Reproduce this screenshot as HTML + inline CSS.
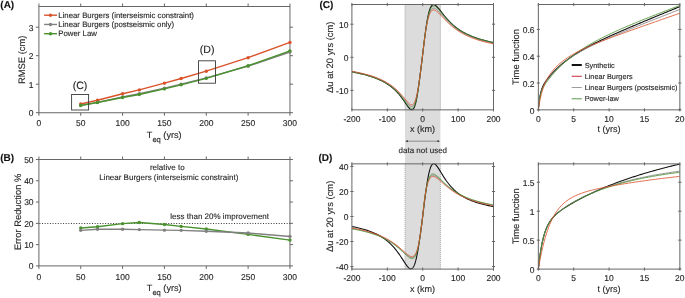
<!DOCTYPE html>
<html><head><meta charset="utf-8"><style>
html,body{margin:0;padding:0;background:#fff;}
svg{display:block;font-family:"Liberation Sans", sans-serif;will-change:transform;text-rendering:geometricPrecision;}
text{stroke:currentColor;stroke-width:0.12px;}
</style></head><body>
<svg width="685" height="298" viewBox="0 0 685 298">
<rect width="685" height="298" fill="#fff"/>
<rect x="405.00" y="4.50" width="35.40" height="264.60" fill="#DCDCDC"/>
<line x1="405.00" y1="4.50" x2="405.00" y2="109.85" stroke="#777" stroke-width="0.6" stroke-dasharray="1 1"/>
<line x1="440.40" y1="4.50" x2="440.40" y2="109.85" stroke="#777" stroke-width="0.6" stroke-dasharray="1 1"/>
<line x1="405.00" y1="163.85" x2="405.00" y2="269.10" stroke="#777" stroke-width="0.6" stroke-dasharray="1 1"/>
<line x1="440.40" y1="163.85" x2="440.40" y2="269.10" stroke="#777" stroke-width="0.6" stroke-dasharray="1 1"/>
<clipPath id="cl"><rect x="351.9" y="3.8" width="141.60000000000002" height="106.75"/></clipPath>
<g clip-path="url(#cl)">
<path d="M351.90,71.85 L352.86,72.03 L353.82,72.21 L354.78,72.40 L355.74,72.59 L356.70,72.78 L357.66,72.99 L358.62,73.19 L359.58,73.41 L360.54,73.63 L361.50,73.85 L362.46,74.09 L363.42,74.33 L364.38,74.58 L365.34,74.83 L366.30,75.09 L367.26,75.37 L368.22,75.65 L369.18,75.94 L370.14,76.23 L371.10,76.54 L372.06,76.86 L373.02,77.20 L373.98,77.54 L374.94,77.90 L375.90,78.27 L376.86,78.65 L377.82,79.05 L378.78,79.46 L379.74,79.89 L380.70,80.34 L381.66,80.81 L382.62,81.29 L383.58,81.80 L384.54,82.33 L385.50,82.88 L386.46,83.46 L387.42,84.07 L388.38,84.70 L389.34,85.36 L390.30,86.06 L391.26,86.79 L392.22,87.56 L393.18,88.37 L394.14,89.22 L395.10,90.11 L396.06,91.06 L397.02,92.05 L397.98,93.09 L398.94,94.19 L399.90,95.34 L400.86,96.55 L401.82,97.81 L402.78,99.13 L403.74,100.49 L404.70,101.90 L405.66,103.32 L406.62,104.74 L407.58,106.12 L408.54,107.40 L408.78,107.70 L409.01,107.98 L409.25,108.25 L409.48,108.51 L409.72,108.75 L409.96,108.97 L410.19,109.18 L410.43,109.36 L410.66,109.52 L410.90,109.66 L411.14,109.76 L411.37,109.84 L411.61,109.89 L411.84,109.90 L412.08,109.87 L412.32,109.81 L412.55,109.70 L412.79,109.54 L413.02,109.34 L413.26,109.09 L413.50,108.78 L413.73,108.42 L413.97,108.00 L414.20,107.52 L414.44,106.97 L414.68,106.36 L414.91,105.69 L415.15,104.94 L415.38,104.13 L415.62,103.25 L415.86,102.30 L416.09,101.28 L416.33,100.18 L416.56,99.03 L416.80,97.80 L417.04,96.51 L417.27,95.16 L417.51,93.74 L417.74,92.27 L417.98,90.75 L418.22,89.18 L418.45,87.55 L418.69,85.89 L418.92,84.19 L419.16,82.45 L419.40,80.68 L419.63,78.89 L419.87,77.07 L420.10,75.23 L420.34,73.37 L420.58,71.50 L420.81,69.62 L421.05,67.73 L421.28,65.84 L421.52,63.94 L421.76,62.04 L421.99,60.14 L422.23,58.24 L422.46,56.28 L422.70,54.26 L422.94,52.25 L423.17,50.24 L423.41,48.24 L423.64,46.26 L423.88,44.29 L424.12,42.34 L424.35,40.42 L424.59,38.52 L424.82,36.66 L425.06,34.83 L425.30,33.04 L425.53,31.30 L425.77,29.60 L426.00,27.95 L426.24,26.35 L426.48,24.80 L426.71,23.31 L426.95,21.88 L427.18,20.51 L427.42,19.20 L427.66,17.95 L427.89,16.76 L428.13,15.63 L428.36,14.57 L428.60,13.56 L428.84,12.62 L429.07,11.74 L429.31,10.92 L429.54,10.16 L429.78,9.46 L430.02,8.81 L430.25,8.22 L430.49,7.68 L430.72,7.19 L430.96,6.75 L431.20,6.36 L431.43,6.01 L431.67,5.71 L431.90,5.45 L432.14,5.23 L432.38,5.04 L432.61,4.90 L432.85,4.78 L433.08,4.70 L433.32,4.65 L433.56,4.63 L433.79,4.64 L434.03,4.67 L434.26,4.72 L434.50,4.80 L434.74,4.90 L434.97,5.02 L435.21,5.15 L435.44,5.31 L435.68,5.47 L435.92,5.66 L436.15,5.85 L436.39,6.06 L436.62,6.28 L436.86,6.51 L437.82,7.54 L438.78,8.67 L439.74,9.86 L440.70,11.10 L441.66,12.34 L442.62,13.58 L443.58,14.80 L444.54,16.00 L445.50,17.17 L446.46,18.30 L447.42,19.39 L448.38,20.44 L449.34,21.45 L450.30,22.42 L451.26,23.35 L452.22,24.24 L453.18,25.10 L454.14,25.92 L455.10,26.70 L456.06,27.46 L457.02,28.18 L457.98,28.87 L458.94,29.54 L459.90,30.17 L460.86,30.79 L461.82,31.37 L462.78,31.94 L463.74,32.48 L464.70,33.00 L465.66,33.50 L466.62,33.99 L467.58,34.45 L468.54,34.90 L469.50,35.33 L470.46,35.75 L471.42,36.15 L472.38,36.54 L473.34,36.92 L474.30,37.28 L475.26,37.63 L476.22,37.97 L477.18,38.30 L478.14,38.62 L479.10,38.92 L480.06,39.22 L481.02,39.51 L481.98,39.79 L482.94,40.07 L483.90,40.33 L484.86,40.59 L485.82,40.84 L486.78,41.08 L487.74,41.31 L488.70,41.54 L489.66,41.76 L490.62,41.98 L491.58,42.19 L492.54,42.40 L493.50,42.60" fill="none" stroke="#111111" stroke-width="1.1" stroke-linejoin="round"/>
<path d="M351.90,71.57 L352.86,71.75 L353.82,71.93 L354.78,72.11 L355.74,72.30 L356.70,72.49 L357.66,72.69 L358.62,72.90 L359.58,73.11 L360.54,73.32 L361.50,73.54 L362.46,73.77 L363.42,74.01 L364.38,74.25 L365.34,74.50 L366.30,74.76 L367.26,75.02 L368.22,75.30 L369.18,75.58 L370.14,75.87 L371.10,76.18 L372.06,76.49 L373.02,76.81 L373.98,77.15 L374.94,77.49 L375.90,77.85 L376.86,78.22 L377.82,78.61 L378.78,79.01 L379.74,79.43 L380.70,79.86 L381.66,80.31 L382.62,80.78 L383.58,81.27 L384.54,81.78 L385.50,82.31 L386.46,82.86 L387.42,83.44 L388.38,84.04 L389.34,84.68 L390.30,85.34 L391.26,86.03 L392.22,86.75 L393.18,87.51 L394.14,88.31 L395.10,89.14 L396.06,90.02 L397.02,90.94 L397.98,91.90 L398.94,92.90 L399.90,93.95 L400.86,95.04 L401.82,96.18 L402.78,97.35 L403.74,98.56 L404.70,99.79 L405.66,101.02 L406.62,102.24 L407.58,103.41 L408.54,104.49 L408.78,104.73 L409.01,104.97 L409.25,105.19 L409.48,105.40 L409.72,105.60 L409.96,105.78 L410.19,105.94 L410.43,106.09 L410.66,106.22 L410.90,106.32 L411.14,106.40 L411.37,106.46 L411.61,106.49 L411.84,106.49 L412.08,106.46 L412.32,106.40 L412.55,106.30 L412.79,106.16 L413.02,105.98 L413.26,105.76 L413.50,105.50 L413.73,105.18 L413.97,104.82 L414.20,104.41 L414.44,103.94 L414.68,103.42 L414.91,102.84 L415.15,102.20 L415.38,101.49 L415.62,100.73 L415.86,99.90 L416.09,99.01 L416.33,98.06 L416.56,97.04 L416.80,95.95 L417.04,94.81 L417.27,93.60 L417.51,92.32 L417.74,90.99 L417.98,89.60 L418.22,88.16 L418.45,86.66 L418.69,85.11 L418.92,83.51 L419.16,81.88 L419.40,80.20 L419.63,78.48 L419.87,76.73 L420.10,74.96 L420.34,73.15 L420.58,71.33 L420.81,69.49 L421.05,67.63 L421.28,65.76 L421.52,63.89 L421.76,62.01 L421.99,60.12 L422.23,58.23 L422.46,56.27 L422.70,54.23 L422.94,52.19 L423.17,50.18 L423.41,48.18 L423.64,46.20 L423.88,44.26 L424.12,42.35 L424.35,40.48 L424.59,38.65 L424.82,36.86 L425.06,35.12 L425.30,33.43 L425.53,31.79 L425.77,30.21 L426.00,28.69 L426.24,27.22 L426.48,25.81 L426.71,24.46 L426.95,23.17 L427.18,21.95 L427.42,20.78 L427.66,19.67 L427.89,18.63 L428.13,17.64 L428.36,16.71 L428.60,15.84 L428.84,15.03 L429.07,14.27 L429.31,13.57 L429.54,12.91 L429.78,12.31 L430.02,11.76 L430.25,11.25 L430.49,10.79 L430.72,10.38 L430.96,10.00 L431.20,9.67 L431.43,9.38 L431.67,9.12 L431.90,8.90 L432.14,8.71 L432.38,8.55 L432.61,8.42 L432.85,8.32 L433.08,8.25 L433.32,8.21 L433.56,8.18 L433.79,8.19 L434.03,8.21 L434.26,8.25 L434.50,8.31 L434.74,8.39 L434.97,8.49 L435.21,8.60 L435.44,8.72 L435.68,8.86 L435.92,9.02 L436.15,9.18 L436.39,9.35 L436.62,9.54 L436.86,9.73 L437.82,10.60 L438.78,11.56 L439.74,12.59 L440.70,13.66 L441.66,14.75 L442.62,15.84 L443.58,16.93 L444.54,18.00 L445.50,19.05 L446.46,20.07 L447.42,21.06 L448.38,22.02 L449.34,22.95 L450.30,23.85 L451.26,24.71 L452.22,25.54 L453.18,26.35 L454.14,27.12 L455.10,27.86 L456.06,28.57 L457.02,29.25 L457.98,29.91 L458.94,30.54 L459.90,31.15 L460.86,31.74 L461.82,32.30 L462.78,32.84 L463.74,33.36 L464.70,33.87 L465.66,34.35 L466.62,34.82 L467.58,35.27 L468.54,35.70 L469.50,36.12 L470.46,36.53 L471.42,36.92 L472.38,37.30 L473.34,37.67 L474.30,38.02 L475.26,38.36 L476.22,38.69 L477.18,39.01 L478.14,39.33 L479.10,39.63 L480.06,39.92 L481.02,40.20 L481.98,40.48 L482.94,40.75 L483.90,41.01 L484.86,41.26 L485.82,41.50 L486.78,41.74 L487.74,41.97 L488.70,42.20 L489.66,42.42 L490.62,42.63 L491.58,42.84 L492.54,43.04 L493.50,43.24" fill="none" stroke="#808080" stroke-width="0.85" stroke-linejoin="round"/>
<path d="M351.90,71.88 L352.86,72.05 L353.82,72.24 L354.78,72.42 L355.74,72.61 L356.70,72.81 L357.66,73.01 L358.62,73.22 L359.58,73.43 L360.54,73.65 L361.50,73.88 L362.46,74.11 L363.42,74.35 L364.38,74.60 L365.34,74.85 L366.30,75.12 L367.26,75.39 L368.22,75.67 L369.18,75.95 L370.14,76.25 L371.10,76.56 L372.06,76.88 L373.02,77.21 L373.98,77.55 L374.94,77.90 L375.90,78.27 L376.86,78.65 L377.82,79.05 L378.78,79.46 L379.74,79.88 L380.70,80.33 L381.66,80.79 L382.62,81.27 L383.58,81.77 L384.54,82.29 L385.50,82.84 L386.46,83.41 L387.42,84.00 L388.38,84.62 L389.34,85.28 L390.30,85.96 L391.26,86.67 L392.22,87.43 L393.18,88.21 L394.14,89.04 L395.10,89.91 L396.06,90.83 L397.02,91.78 L397.98,92.79 L398.94,93.85 L399.90,94.96 L400.86,96.11 L401.82,97.32 L402.78,98.57 L403.74,99.87 L404.70,101.19 L405.66,102.52 L406.62,103.84 L407.58,105.12 L408.54,106.30 L408.78,106.57 L409.01,106.83 L409.25,107.07 L409.48,107.30 L409.72,107.52 L409.96,107.72 L410.19,107.90 L410.43,108.07 L410.66,108.21 L410.90,108.32 L411.14,108.41 L411.37,108.48 L411.61,108.51 L411.84,108.51 L412.08,108.48 L412.32,108.41 L412.55,108.30 L412.79,108.14 L413.02,107.95 L413.26,107.70 L413.50,107.41 L413.73,107.06 L413.97,106.66 L414.20,106.20 L414.44,105.68 L414.68,105.11 L414.91,104.47 L415.15,103.76 L415.38,103.00 L415.62,102.16 L415.86,101.26 L416.09,100.29 L416.33,99.26 L416.56,98.16 L416.80,96.99 L417.04,95.76 L417.27,94.47 L417.51,93.12 L417.74,91.71 L417.98,90.24 L418.22,88.72 L418.45,87.16 L418.69,85.54 L418.92,83.89 L419.16,82.19 L419.40,80.47 L419.63,78.70 L419.87,76.92 L420.10,75.11 L420.34,73.27 L420.58,71.42 L420.81,69.56 L421.05,67.69 L421.28,65.81 L421.52,63.92 L421.76,62.03 L421.99,60.13 L422.23,58.24 L422.46,56.28 L422.70,54.25 L422.94,52.22 L423.17,50.21 L423.41,48.21 L423.64,46.23 L423.88,44.27 L424.12,42.34 L424.35,40.44 L424.59,38.58 L424.82,36.75 L425.06,34.96 L425.30,33.21 L425.53,31.52 L425.77,29.87 L426.00,28.28 L426.24,26.73 L426.48,25.25 L426.71,23.82 L426.95,22.45 L427.18,21.14 L427.42,19.89 L427.66,18.70 L427.89,17.58 L428.13,16.51 L428.36,15.50 L428.60,14.55 L428.84,13.67 L429.07,12.84 L429.31,12.06 L429.54,11.34 L429.78,10.68 L430.02,10.07 L430.25,9.51 L430.49,9.00 L430.72,8.54 L430.96,8.12 L431.20,7.75 L431.43,7.42 L431.67,7.13 L431.90,6.88 L432.14,6.66 L432.38,6.48 L432.61,6.34 L432.85,6.22 L433.08,6.14 L433.32,6.09 L433.56,6.06 L433.79,6.05 L434.03,6.08 L434.26,6.12 L434.50,6.18 L434.74,6.27 L434.97,6.37 L435.21,6.49 L435.44,6.62 L435.68,6.77 L435.92,6.93 L436.15,7.11 L436.39,7.30 L436.62,7.50 L436.86,7.70 L437.82,8.64 L438.78,9.68 L439.74,10.79 L440.70,11.94 L441.66,13.10 L442.62,14.27 L443.58,15.42 L444.54,16.56 L445.50,17.66 L446.46,18.74 L447.42,19.79 L448.38,20.79 L449.34,21.77 L450.30,22.70 L451.26,23.60 L452.22,24.46 L453.18,25.29 L454.14,26.09 L455.10,26.86 L456.06,27.59 L457.02,28.30 L457.98,28.97 L458.94,29.62 L459.90,30.24 L460.86,30.84 L461.82,31.42 L462.78,31.97 L463.74,32.51 L464.70,33.02 L465.66,33.52 L466.62,33.99 L467.58,34.45 L468.54,34.89 L469.50,35.32 L470.46,35.73 L471.42,36.13 L472.38,36.51 L473.34,36.89 L474.30,37.24 L475.26,37.59 L476.22,37.93 L477.18,38.25 L478.14,38.57 L479.10,38.88 L480.06,39.17 L481.02,39.46 L481.98,39.74 L482.94,40.01 L483.90,40.27 L484.86,40.53 L485.82,40.78 L486.78,41.02 L487.74,41.25 L488.70,41.48 L489.66,41.71 L490.62,41.92 L491.58,42.13 L492.54,42.34 L493.50,42.54" fill="none" stroke="#4A922F" stroke-width="0.85" stroke-linejoin="round"/>
<path d="M351.90,71.30 L352.86,71.47 L353.82,71.65 L354.78,71.83 L355.74,72.01 L356.70,72.20 L357.66,72.40 L358.62,72.60 L359.58,72.81 L360.54,73.02 L361.50,73.24 L362.46,73.46 L363.42,73.70 L364.38,73.93 L365.34,74.18 L366.30,74.43 L367.26,74.69 L368.22,74.96 L369.18,75.24 L370.14,75.53 L371.10,75.83 L372.06,76.13 L373.02,76.45 L373.98,76.78 L374.94,77.12 L375.90,77.47 L376.86,77.84 L377.82,78.22 L378.78,78.61 L379.74,79.02 L380.70,79.44 L381.66,79.88 L382.62,80.34 L383.58,80.82 L384.54,81.32 L385.50,81.84 L386.46,82.38 L387.42,82.94 L388.38,83.53 L389.34,84.15 L390.30,84.79 L391.26,85.46 L392.22,86.16 L393.18,86.90 L394.14,87.67 L395.10,88.47 L396.06,89.32 L397.02,90.20 L397.98,91.12 L398.94,92.08 L399.90,93.08 L400.86,94.12 L401.82,95.20 L402.78,96.31 L403.74,97.45 L404.70,98.60 L405.66,99.75 L406.62,100.89 L407.58,101.97 L408.54,102.97 L408.78,103.19 L409.01,103.41 L409.25,103.61 L409.48,103.81 L409.72,103.99 L409.96,104.15 L410.19,104.31 L410.43,104.44 L410.66,104.56 L410.90,104.66 L411.14,104.73 L411.37,104.79 L411.61,104.81 L411.84,104.82 L412.08,104.79 L412.32,104.73 L412.55,104.64 L412.79,104.52 L413.02,104.36 L413.26,104.16 L413.50,103.92 L413.73,103.64 L413.97,103.31 L414.20,102.93 L414.44,102.51 L414.68,102.03 L414.91,101.49 L415.15,100.91 L415.38,100.26 L415.62,99.56 L415.86,98.79 L416.09,97.96 L416.33,97.07 L416.56,96.12 L416.80,95.10 L417.04,94.02 L417.27,92.88 L417.51,91.67 L417.74,90.41 L417.98,89.08 L418.22,87.69 L418.45,86.25 L418.69,84.76 L418.92,83.21 L419.16,81.62 L419.40,79.98 L419.63,78.30 L419.87,76.58 L420.10,74.83 L420.34,73.06 L420.58,71.25 L420.81,69.43 L421.05,67.59 L421.28,65.73 L421.52,63.86 L421.76,61.99 L421.99,60.11 L422.23,58.23 L422.46,56.26 L422.70,54.21 L422.94,52.17 L423.17,50.15 L423.41,48.15 L423.64,46.18 L423.88,44.25 L424.12,42.36 L424.35,40.51 L424.59,38.70 L424.82,36.95 L425.06,35.25 L425.30,33.60 L425.53,32.02 L425.77,30.49 L426.00,29.02 L426.24,27.61 L426.48,26.27 L426.71,24.99 L426.95,23.77 L427.18,22.61 L427.42,21.51 L427.66,20.47 L427.89,19.49 L428.13,18.57 L428.36,17.71 L428.60,16.90 L428.84,16.15 L429.07,15.45 L429.31,14.80 L429.54,14.21 L429.78,13.65 L430.02,13.15 L430.25,12.69 L430.49,12.27 L430.72,11.90 L430.96,11.56 L431.20,11.26 L431.43,10.99 L431.67,10.76 L431.90,10.57 L432.14,10.40 L432.38,10.26 L432.61,10.15 L432.85,10.06 L433.08,10.00 L433.32,9.97 L433.56,9.95 L433.79,9.96 L434.03,9.98 L434.26,10.03 L434.50,10.09 L434.74,10.16 L434.97,10.26 L435.21,10.36 L435.44,10.48 L435.68,10.61 L435.92,10.76 L436.15,10.91 L436.39,11.08 L436.62,11.25 L436.86,11.43 L437.82,12.24 L438.78,13.15 L439.74,14.12 L440.70,15.13 L441.66,16.15 L442.62,17.19 L443.58,18.22 L444.54,19.24 L445.50,20.24 L446.46,21.22 L447.42,22.17 L448.38,23.09 L449.34,23.99 L450.30,24.85 L451.26,25.69 L452.22,26.49 L453.18,27.27 L454.14,28.02 L455.10,28.74 L456.06,29.43 L457.02,30.10 L457.98,30.74 L458.94,31.36 L459.90,31.96 L460.86,32.53 L461.82,33.09 L462.78,33.62 L463.74,34.13 L464.70,34.63 L465.66,35.10 L466.62,35.56 L467.58,36.01 L468.54,36.44 L469.50,36.85 L470.46,37.25 L471.42,37.64 L472.38,38.01 L473.34,38.37 L474.30,38.72 L475.26,39.06 L476.22,39.39 L477.18,39.70 L478.14,40.01 L479.10,40.31 L480.06,40.60 L481.02,40.88 L481.98,41.15 L482.94,41.41 L483.90,41.67 L484.86,41.92 L485.82,42.16 L486.78,42.39 L487.74,42.62 L488.70,42.85 L489.66,43.06 L490.62,43.27 L491.58,43.48 L492.54,43.68 L493.50,43.87" fill="none" stroke="#D9532A" stroke-width="0.85" stroke-linejoin="round"/>
</g>
<clipPath id="dl"><rect x="351.9" y="163.15" width="141.60000000000002" height="106.65000000000003"/></clipPath>
<g clip-path="url(#dl)">
<path d="M351.90,226.48 L352.86,226.67 L353.82,226.86 L354.78,227.06 L355.74,227.27 L356.70,227.48 L357.66,227.70 L358.62,227.93 L359.58,228.17 L360.54,228.41 L361.50,228.67 L362.46,228.93 L363.42,229.20 L364.38,229.48 L365.34,229.77 L366.30,230.07 L367.26,230.39 L368.22,230.71 L369.18,231.05 L370.14,231.41 L371.10,231.77 L372.06,232.15 L373.02,232.55 L373.98,232.96 L374.94,233.39 L375.90,233.84 L376.86,234.31 L377.82,234.80 L378.78,235.31 L379.74,235.84 L380.70,236.40 L381.66,236.99 L382.62,237.60 L383.58,238.24 L384.54,238.91 L385.50,239.61 L386.46,240.35 L387.42,241.12 L388.38,241.93 L389.34,242.78 L390.30,243.68 L391.26,244.61 L392.22,245.60 L393.18,246.63 L394.14,247.71 L395.10,248.84 L396.06,250.03 L397.02,251.27 L397.98,252.55 L398.94,253.89 L399.90,255.28 L400.86,256.71 L401.82,258.17 L402.78,259.65 L403.74,261.14 L404.70,262.61 L405.66,264.04 L406.62,265.38 L407.58,266.60 L408.54,267.62 L408.78,267.84 L409.01,268.04 L409.25,268.22 L409.48,268.38 L409.72,268.52 L409.96,268.64 L410.19,268.74 L410.43,268.81 L410.66,268.85 L410.90,268.87 L411.14,268.86 L411.37,268.82 L411.61,268.74 L411.84,268.64 L412.08,268.49 L412.32,268.31 L412.55,268.09 L412.79,267.83 L413.02,267.53 L413.26,267.19 L413.50,266.80 L413.73,266.37 L413.97,265.89 L414.20,265.36 L414.44,264.78 L414.68,264.15 L414.91,263.47 L415.15,262.74 L415.38,261.95 L415.62,261.12 L415.86,260.23 L416.09,259.28 L416.33,258.29 L416.56,257.24 L416.80,256.13 L417.04,254.98 L417.27,253.77 L417.51,252.52 L417.74,251.21 L417.98,249.86 L418.22,248.46 L418.45,247.02 L418.69,245.54 L418.92,244.02 L419.16,242.46 L419.40,240.87 L419.63,239.24 L419.87,237.58 L420.10,235.90 L420.34,234.19 L420.58,232.46 L420.81,230.72 L421.05,228.95 L421.28,227.17 L421.52,225.38 L421.76,223.59 L421.99,221.78 L422.23,219.97 L422.46,218.16 L422.70,216.35 L422.94,214.43 L423.17,212.52 L423.41,210.60 L423.64,208.69 L423.88,206.79 L424.12,204.90 L424.35,203.02 L424.59,201.15 L424.82,199.30 L425.06,197.48 L425.30,195.67 L425.53,193.90 L425.77,192.16 L426.00,190.45 L426.24,188.78 L426.48,187.14 L426.71,185.56 L426.95,184.02 L427.18,182.53 L427.42,181.09 L427.66,179.70 L427.89,178.37 L428.13,177.09 L428.36,175.88 L428.60,174.72 L428.84,173.63 L429.07,172.59 L429.31,171.62 L429.54,170.71 L429.78,169.86 L430.02,169.07 L430.25,168.34 L430.49,167.68 L430.72,167.06 L430.96,166.51 L431.20,166.01 L431.43,165.57 L431.67,165.18 L431.90,164.84 L432.14,164.55 L432.38,164.31 L432.61,164.11 L432.85,163.95 L433.08,163.84 L433.32,163.76 L433.56,163.73 L433.79,163.72 L434.03,163.76 L434.26,163.82 L434.50,163.91 L434.74,164.03 L434.97,164.18 L435.21,164.35 L435.44,164.54 L435.68,164.75 L435.92,164.99 L436.15,165.24 L436.39,165.51 L436.62,165.79 L436.86,166.08 L437.82,167.41 L438.78,168.87 L439.74,170.41 L440.70,171.99 L441.66,173.57 L442.62,175.14 L443.58,176.67 L444.54,178.16 L445.50,179.59 L446.46,180.97 L447.42,182.28 L448.38,183.53 L449.34,184.73 L450.30,185.86 L451.26,186.94 L452.22,187.97 L453.18,188.94 L454.14,189.87 L455.10,190.74 L456.06,191.58 L457.02,192.37 L457.98,193.12 L458.94,193.84 L459.90,194.52 L460.86,195.17 L461.82,195.78 L462.78,196.37 L463.74,196.93 L464.70,197.47 L465.66,197.98 L466.62,198.47 L467.58,198.94 L468.54,199.39 L469.50,199.82 L470.46,200.23 L471.42,200.62 L472.38,201.00 L473.34,201.36 L474.30,201.71 L475.26,202.05 L476.22,202.37 L477.18,202.68 L478.14,202.98 L479.10,203.27 L480.06,203.54 L481.02,203.81 L481.98,204.07 L482.94,204.32 L483.90,204.56 L484.86,204.79 L485.82,205.01 L486.78,205.23 L487.74,205.44 L488.70,205.64 L489.66,205.84 L490.62,206.03 L491.58,206.22 L492.54,206.40 L493.50,206.57" fill="none" stroke="#111111" stroke-width="1.1" stroke-linejoin="round"/>
<path d="M351.90,228.42 L352.86,228.59 L353.82,228.76 L354.78,228.94 L355.74,229.12 L356.70,229.31 L357.66,229.50 L358.62,229.70 L359.58,229.90 L360.54,230.11 L361.50,230.33 L362.46,230.55 L363.42,230.78 L364.38,231.01 L365.34,231.26 L366.30,231.51 L367.26,231.76 L368.22,232.03 L369.18,232.30 L370.14,232.58 L371.10,232.88 L372.06,233.18 L373.02,233.49 L373.98,233.81 L374.94,234.14 L375.90,234.48 L376.86,234.84 L377.82,235.20 L378.78,235.58 L379.74,235.98 L380.70,236.39 L381.66,236.81 L382.62,237.25 L383.58,237.70 L384.54,238.17 L385.50,238.66 L386.46,239.17 L387.42,239.69 L388.38,240.24 L389.34,240.81 L390.30,241.40 L391.26,242.01 L392.22,242.64 L393.18,243.30 L394.14,243.98 L395.10,244.69 L396.06,245.43 L397.02,246.18 L397.98,246.97 L398.94,247.77 L399.90,248.60 L400.86,249.45 L401.82,250.32 L402.78,251.19 L403.74,252.08 L404.70,252.96 L405.66,253.83 L406.62,254.67 L407.58,255.46 L408.54,256.18 L408.78,256.35 L409.01,256.50 L409.25,256.65 L409.48,256.79 L409.72,256.92 L409.96,257.05 L410.19,257.16 L410.43,257.26 L410.66,257.35 L410.90,257.43 L411.14,257.49 L411.37,257.54 L411.61,257.58 L411.84,257.60 L412.08,257.60 L412.32,257.58 L412.55,257.54 L412.79,257.49 L413.02,257.40 L413.26,257.30 L413.50,257.17 L413.73,257.01 L413.97,256.83 L414.20,256.61 L414.44,256.37 L414.68,256.09 L414.91,255.77 L415.15,255.42 L415.38,255.03 L415.62,254.60 L415.86,254.13 L416.09,253.61 L416.33,253.05 L416.56,252.43 L416.80,251.77 L417.04,251.06 L417.27,250.29 L417.51,249.46 L417.74,248.58 L417.98,247.64 L418.22,246.64 L418.45,245.58 L418.69,244.45 L418.92,243.26 L419.16,242.01 L419.40,240.69 L419.63,239.31 L419.87,237.87 L420.10,236.36 L420.34,234.79 L420.58,233.16 L420.81,231.47 L421.05,229.73 L421.28,227.93 L421.52,226.09 L421.76,224.20 L421.99,222.28 L422.23,220.32 L422.46,218.34 L422.70,216.35 L422.94,214.05 L423.17,211.78 L423.41,209.57 L423.64,207.43 L423.88,205.35 L424.12,203.35 L424.35,201.42 L424.59,199.57 L424.82,197.81 L425.06,196.12 L425.30,194.52 L425.53,193.00 L425.77,191.56 L426.00,190.20 L426.24,188.91 L426.48,187.71 L426.71,186.57 L426.95,185.51 L427.18,184.51 L427.42,183.58 L427.66,182.72 L427.89,181.92 L428.13,181.17 L428.36,180.49 L428.60,179.85 L428.84,179.27 L429.07,178.74 L429.31,178.25 L429.54,177.81 L429.78,177.41 L430.02,177.06 L430.25,176.74 L430.49,176.45 L430.72,176.20 L430.96,175.99 L431.20,175.80 L431.43,175.64 L431.67,175.51 L431.90,175.40 L432.14,175.32 L432.38,175.26 L432.61,175.22 L432.85,175.21 L433.08,175.21 L433.32,175.22 L433.56,175.26 L433.79,175.31 L434.03,175.37 L434.26,175.45 L434.50,175.54 L434.74,175.64 L434.97,175.75 L435.21,175.88 L435.44,176.01 L435.68,176.15 L435.92,176.30 L436.15,176.45 L436.39,176.61 L436.62,176.78 L436.86,176.96 L437.82,177.72 L438.78,178.54 L439.74,179.41 L440.70,180.29 L441.66,181.19 L442.62,182.08 L443.58,182.97 L444.54,183.85 L445.50,184.71 L446.46,185.54 L447.42,186.36 L448.38,187.15 L449.34,187.92 L450.30,188.66 L451.26,189.38 L452.22,190.08 L453.18,190.75 L454.14,191.39 L455.10,192.02 L456.06,192.62 L457.02,193.20 L457.98,193.75 L458.94,194.29 L459.90,194.81 L460.86,195.31 L461.82,195.79 L462.78,196.26 L463.74,196.71 L464.70,197.14 L465.66,197.56 L466.62,197.96 L467.58,198.35 L468.54,198.72 L469.50,199.09 L470.46,199.44 L471.42,199.78 L472.38,200.11 L473.34,200.43 L474.30,200.73 L475.26,201.03 L476.22,201.32 L477.18,201.60 L478.14,201.87 L479.10,202.13 L480.06,202.39 L481.02,202.64 L481.98,202.88 L482.94,203.11 L483.90,203.33 L484.86,203.55 L485.82,203.77 L486.78,203.98 L487.74,204.18 L488.70,204.37 L489.66,204.56 L490.62,204.75 L491.58,204.93 L492.54,205.11 L493.50,205.28" fill="none" stroke="#808080" stroke-width="0.85" stroke-linejoin="round"/>
<path d="M351.90,228.83 L352.86,229.00 L353.82,229.18 L354.78,229.36 L355.74,229.54 L356.70,229.73 L357.66,229.92 L358.62,230.12 L359.58,230.33 L360.54,230.54 L361.50,230.76 L362.46,230.98 L363.42,231.21 L364.38,231.44 L365.34,231.69 L366.30,231.94 L367.26,232.20 L368.22,232.46 L369.18,232.74 L370.14,233.02 L371.10,233.31 L372.06,233.61 L373.02,233.92 L373.98,234.25 L374.94,234.58 L375.90,234.92 L376.86,235.28 L377.82,235.65 L378.78,236.03 L379.74,236.43 L380.70,236.84 L381.66,237.26 L382.62,237.70 L383.58,238.16 L384.54,238.63 L385.50,239.13 L386.46,239.64 L387.42,240.17 L388.38,240.72 L389.34,241.29 L390.30,241.89 L391.26,242.50 L392.22,243.15 L393.18,243.81 L394.14,244.51 L395.10,245.22 L396.06,245.97 L397.02,246.74 L397.98,247.54 L398.94,248.36 L399.90,249.21 L400.86,250.08 L401.82,250.97 L402.78,251.87 L403.74,252.78 L404.70,253.70 L405.66,254.60 L406.62,255.47 L407.58,256.30 L408.54,257.06 L408.78,257.23 L409.01,257.39 L409.25,257.55 L409.48,257.70 L409.72,257.84 L409.96,257.97 L410.19,258.09 L410.43,258.20 L410.66,258.30 L410.90,258.38 L411.14,258.45 L411.37,258.51 L411.61,258.55 L411.84,258.57 L412.08,258.58 L412.32,258.56 L412.55,258.53 L412.79,258.47 L413.02,258.39 L413.26,258.29 L413.50,258.15 L413.73,257.99 L413.97,257.81 L414.20,257.58 L414.44,257.33 L414.68,257.04 L414.91,256.72 L415.15,256.35 L415.38,255.95 L415.62,255.50 L415.86,255.01 L416.09,254.47 L416.33,253.89 L416.56,253.25 L416.80,252.56 L417.04,251.82 L417.27,251.02 L417.51,250.16 L417.74,249.25 L417.98,248.27 L418.22,247.23 L418.45,246.13 L418.69,244.97 L418.92,243.74 L419.16,242.45 L419.40,241.09 L419.63,239.66 L419.87,238.18 L420.10,236.63 L420.34,235.02 L420.58,233.35 L420.81,231.63 L421.05,229.85 L421.28,228.03 L421.52,226.16 L421.76,224.25 L421.99,222.31 L422.23,220.34 L422.46,218.35 L422.70,216.35 L422.94,214.10 L423.17,211.87 L423.41,209.68 L423.64,207.55 L423.88,205.46 L424.12,203.44 L424.35,201.49 L424.59,199.61 L424.82,197.80 L425.06,196.07 L425.30,194.41 L425.53,192.83 L425.77,191.33 L426.00,189.90 L426.24,188.55 L426.48,187.28 L426.71,186.08 L426.95,184.96 L427.18,183.90 L427.42,182.91 L427.66,181.99 L427.89,181.14 L428.13,180.34 L428.36,179.60 L428.60,178.93 L428.84,178.30 L429.07,177.73 L429.31,177.21 L429.54,176.74 L429.78,176.31 L430.02,175.92 L430.25,175.58 L430.49,175.27 L430.72,175.00 L430.96,174.77 L431.20,174.57 L431.43,174.39 L431.67,174.25 L431.90,174.14 L432.14,174.05 L432.38,173.99 L432.61,173.95 L432.85,173.93 L433.08,173.93 L433.32,173.95 L433.56,173.98 L433.79,174.04 L434.03,174.11 L434.26,174.19 L434.50,174.29 L434.74,174.40 L434.97,174.52 L435.21,174.65 L435.44,174.79 L435.68,174.94 L435.92,175.10 L436.15,175.27 L436.39,175.44 L436.62,175.62 L436.86,175.81 L437.82,176.62 L438.78,177.50 L439.74,178.41 L440.70,179.35 L441.66,180.29 L442.62,181.23 L443.58,182.16 L444.54,183.08 L445.50,183.97 L446.46,184.84 L447.42,185.69 L448.38,186.51 L449.34,187.30 L450.30,188.07 L451.26,188.81 L452.22,189.52 L453.18,190.20 L454.14,190.87 L455.10,191.50 L456.06,192.11 L457.02,192.70 L457.98,193.27 L458.94,193.82 L459.90,194.35 L460.86,194.85 L461.82,195.34 L462.78,195.81 L463.74,196.26 L464.70,196.70 L465.66,197.12 L466.62,197.53 L467.58,197.92 L468.54,198.30 L469.50,198.67 L470.46,199.02 L471.42,199.36 L472.38,199.69 L473.34,200.01 L474.30,200.32 L475.26,200.62 L476.22,200.91 L477.18,201.19 L478.14,201.46 L479.10,201.73 L480.06,201.98 L481.02,202.23 L481.98,202.47 L482.94,202.70 L483.90,202.93 L484.86,203.15 L485.82,203.37 L486.78,203.57 L487.74,203.78 L488.70,203.97 L489.66,204.16 L490.62,204.35 L491.58,204.53 L492.54,204.71 L493.50,204.88" fill="none" stroke="#4A922F" stroke-width="0.85" stroke-linejoin="round"/>
<path d="M351.90,228.00 L352.86,228.17 L353.82,228.34 L354.78,228.52 L355.74,228.70 L356.70,228.89 L357.66,229.08 L358.62,229.28 L359.58,229.48 L360.54,229.69 L361.50,229.90 L362.46,230.12 L363.42,230.35 L364.38,230.59 L365.34,230.83 L366.30,231.08 L367.26,231.33 L368.22,231.60 L369.18,231.87 L370.14,232.15 L371.10,232.44 L372.06,232.74 L373.02,233.05 L373.98,233.37 L374.94,233.70 L375.90,234.04 L376.86,234.39 L377.82,234.76 L378.78,235.14 L379.74,235.53 L380.70,235.93 L381.66,236.35 L382.62,236.79 L383.58,237.24 L384.54,237.71 L385.50,238.19 L386.46,238.70 L387.42,239.22 L388.38,239.76 L389.34,240.32 L390.30,240.91 L391.26,241.51 L392.22,242.14 L393.18,242.79 L394.14,243.46 L395.10,244.16 L396.06,244.88 L397.02,245.63 L397.98,246.39 L398.94,247.18 L399.90,247.99 L400.86,248.82 L401.82,249.66 L402.78,250.52 L403.74,251.37 L404.70,252.23 L405.66,253.06 L406.62,253.87 L407.58,254.62 L408.54,255.31 L408.78,255.46 L409.01,255.61 L409.25,255.75 L409.48,255.88 L409.72,256.01 L409.96,256.12 L410.19,256.23 L410.43,256.32 L410.66,256.40 L410.90,256.47 L411.14,256.53 L411.37,256.58 L411.61,256.61 L411.84,256.62 L412.08,256.62 L412.32,256.60 L412.55,256.56 L412.79,256.50 L413.02,256.42 L413.26,256.31 L413.50,256.19 L413.73,256.03 L413.97,255.85 L414.20,255.64 L414.44,255.40 L414.68,255.13 L414.91,254.83 L415.15,254.49 L415.38,254.11 L415.62,253.70 L415.86,253.24 L416.09,252.75 L416.33,252.20 L416.56,251.62 L416.80,250.98 L417.04,250.29 L417.27,249.55 L417.51,248.76 L417.74,247.91 L417.98,247.01 L418.22,246.05 L418.45,245.02 L418.69,243.94 L418.92,242.79 L419.16,241.58 L419.40,240.30 L419.63,238.96 L419.87,237.56 L420.10,236.09 L420.34,234.56 L420.58,232.97 L420.81,231.31 L421.05,229.60 L421.28,227.84 L421.52,226.02 L421.76,224.15 L421.99,222.25 L422.23,220.31 L422.46,218.34 L422.70,216.35 L422.94,213.99 L423.17,211.69 L423.41,209.46 L423.64,207.31 L423.88,205.23 L424.12,203.25 L424.35,201.35 L424.59,199.54 L424.82,197.82 L425.06,196.18 L425.30,194.63 L425.53,193.17 L425.77,191.79 L426.00,190.49 L426.24,189.27 L426.48,188.13 L426.71,187.06 L426.95,186.06 L427.18,185.12 L427.42,184.25 L427.66,183.44 L427.89,182.70 L428.13,182.00 L428.36,181.37 L428.60,180.78 L428.84,180.24 L429.07,179.75 L429.31,179.30 L429.54,178.89 L429.78,178.52 L430.02,178.19 L430.25,177.90 L430.49,177.64 L430.72,177.41 L430.96,177.20 L431.20,177.03 L431.43,176.89 L431.67,176.77 L431.90,176.67 L432.14,176.59 L432.38,176.54 L432.61,176.50 L432.85,176.48 L433.08,176.49 L433.32,176.50 L433.56,176.53 L433.79,176.58 L434.03,176.64 L434.26,176.71 L434.50,176.79 L434.74,176.89 L434.97,176.99 L435.21,177.10 L435.44,177.23 L435.68,177.36 L435.92,177.49 L436.15,177.64 L436.39,177.79 L436.62,177.95 L436.86,178.11 L437.82,178.82 L438.78,179.59 L439.74,180.40 L440.70,181.24 L441.66,182.09 L442.62,182.94 L443.58,183.78 L444.54,184.62 L445.50,185.44 L446.46,186.25 L447.42,187.03 L448.38,187.80 L449.34,188.54 L450.30,189.26 L451.26,189.96 L452.22,190.63 L453.18,191.29 L454.14,191.92 L455.10,192.53 L456.06,193.12 L457.02,193.69 L457.98,194.23 L458.94,194.76 L459.90,195.27 L460.86,195.77 L461.82,196.24 L462.78,196.70 L463.74,197.15 L464.70,197.57 L465.66,197.99 L466.62,198.39 L467.58,198.77 L468.54,199.15 L469.50,199.51 L470.46,199.86 L471.42,200.20 L472.38,200.52 L473.34,200.84 L474.30,201.15 L475.26,201.44 L476.22,201.73 L477.18,202.01 L478.14,202.28 L479.10,202.54 L480.06,202.79 L481.02,203.04 L481.98,203.28 L482.94,203.51 L483.90,203.74 L484.86,203.96 L485.82,204.17 L486.78,204.38 L487.74,204.58 L488.70,204.77 L489.66,204.96 L490.62,205.15 L491.58,205.33 L492.54,205.51 L493.50,205.68" fill="none" stroke="#D9532A" stroke-width="0.85" stroke-linejoin="round"/>
</g>
<clipPath id="cr"><rect x="538.35" y="3.8" width="141.5" height="106.75"/></clipPath>
<g clip-path="url(#cr)">
<path d="M538.35,109.85 L538.36,109.74 L538.39,109.42 L538.43,108.90 L538.49,108.19 L538.57,107.30 L538.67,106.27 L538.78,105.11 L538.92,103.86 L539.07,102.53 L539.23,101.16 L539.42,99.77 L539.62,98.37 L539.84,97.00 L540.08,95.65 L540.34,94.36 L540.61,93.11 L540.91,91.92 L541.22,90.80 L541.54,89.73 L541.89,88.72 L542.25,87.76 L542.63,86.84 L543.03,85.97 L543.44,85.13 L543.88,84.32 L544.33,83.53 L544.80,82.76 L545.28,82.01 L545.79,81.26 L546.31,80.51 L546.85,79.77 L547.41,79.03 L547.98,78.29 L548.57,77.55 L549.18,76.80 L549.81,76.05 L550.46,75.29 L551.12,74.53 L551.80,73.77 L552.50,73.00 L552.85,72.62 L554.28,71.12 L555.71,69.68 L557.13,68.30 L558.56,66.97 L559.99,65.68 L561.42,64.44 L562.84,63.25 L564.27,62.09 L565.70,60.97 L567.12,59.88 L568.55,58.83 L569.98,57.81 L571.40,56.81 L572.83,55.84 L574.26,54.90 L575.68,53.98 L577.11,53.08 L578.54,52.20 L579.97,51.35 L581.39,50.50 L582.82,49.68 L584.25,48.87 L585.67,48.08 L587.10,47.30 L588.53,46.53 L589.95,45.77 L591.38,45.03 L592.81,44.29 L594.23,43.57 L595.66,42.85 L597.09,42.15 L598.52,41.45 L599.94,40.76 L601.37,40.07 L602.80,39.40 L604.22,38.72 L605.65,38.06 L607.08,37.40 L608.50,36.74 L609.93,36.09 L611.36,35.45 L612.78,34.80 L614.21,34.17 L615.64,33.53 L617.07,32.90 L618.49,32.27 L619.92,31.65 L621.35,31.03 L622.77,30.41 L624.20,29.79 L625.63,29.17 L627.05,28.56 L628.48,27.95 L629.91,27.34 L631.33,26.74 L632.76,26.13 L634.19,25.53 L635.62,24.92 L637.04,24.32 L638.47,23.72 L639.90,23.12 L641.32,22.53 L642.75,21.93 L644.18,21.33 L645.60,20.74 L647.03,20.15 L648.46,19.55 L649.88,18.96 L651.31,18.37 L652.74,17.78 L654.17,17.19 L655.59,16.60 L657.02,16.01 L658.45,15.42 L659.87,14.83 L661.30,14.24 L662.73,13.65 L664.15,13.07 L665.58,12.48 L667.01,11.89 L668.43,11.31 L669.86,10.72 L671.29,10.14 L672.72,9.55 L674.14,8.97 L675.57,8.38 L677.00,7.80 L678.42,7.21 L679.85,6.63" fill="none" stroke="#111111" stroke-width="1.1" stroke-linejoin="round"/>
<path d="M538.35,109.85 L538.36,109.74 L538.39,109.42 L538.43,108.90 L538.49,108.19 L538.57,107.31 L538.67,106.28 L538.78,105.14 L538.92,103.91 L539.07,102.61 L539.23,101.28 L539.42,99.93 L539.62,98.59 L539.84,97.27 L540.08,96.00 L540.34,94.77 L540.61,93.59 L540.91,92.47 L541.22,91.41 L541.54,90.40 L541.89,89.44 L542.25,88.52 L542.63,87.65 L543.03,86.80 L543.44,85.99 L543.88,85.19 L544.33,84.40 L544.80,83.63 L545.28,82.86 L545.79,82.10 L546.31,81.33 L546.85,80.57 L547.41,79.80 L547.98,79.03 L548.57,78.26 L549.18,77.48 L549.81,76.70 L550.46,75.91 L551.12,75.13 L551.80,74.34 L552.50,73.55 L552.85,73.15 L554.28,71.61 L555.71,70.13 L557.13,68.72 L558.56,67.37 L559.99,66.07 L561.42,64.82 L562.84,63.62 L564.27,62.46 L565.70,61.35 L567.12,60.28 L568.55,59.24 L569.98,58.23 L571.40,57.25 L572.83,56.31 L574.26,55.39 L575.68,54.49 L577.11,53.62 L578.54,52.77 L579.97,51.94 L581.39,51.13 L582.82,50.34 L584.25,49.56 L585.67,48.80 L587.10,48.06 L588.53,47.32 L589.95,46.60 L591.38,45.89 L592.81,45.19 L594.23,44.50 L595.66,43.82 L597.09,43.15 L598.52,42.49 L599.94,41.83 L601.37,41.18 L602.80,40.54 L604.22,39.91 L605.65,39.27 L607.08,38.65 L608.50,38.03 L609.93,37.41 L611.36,36.80 L612.78,36.19 L614.21,35.59 L615.64,34.99 L617.07,34.39 L618.49,33.80 L619.92,33.21 L621.35,32.62 L622.77,32.03 L624.20,31.45 L625.63,30.86 L627.05,30.28 L628.48,29.70 L629.91,29.13 L631.33,28.55 L632.76,27.98 L634.19,27.41 L635.62,26.83 L637.04,26.26 L638.47,25.70 L639.90,25.13 L641.32,24.56 L642.75,23.99 L644.18,23.43 L645.60,22.86 L647.03,22.30 L648.46,21.74 L649.88,21.17 L651.31,20.61 L652.74,20.05 L654.17,19.49 L655.59,18.93 L657.02,18.37 L658.45,17.81 L659.87,17.25 L661.30,16.69 L662.73,16.13 L664.15,15.58 L665.58,15.02 L667.01,14.46 L668.43,13.90 L669.86,13.35 L671.29,12.79 L672.72,12.23 L674.14,11.67 L675.57,11.12 L677.00,10.56 L678.42,10.01 L679.85,9.45" fill="none" stroke="#808080" stroke-width="0.85" stroke-linejoin="round"/>
<path d="M538.35,109.85 L538.36,109.75 L538.39,109.43 L538.43,108.93 L538.49,108.24 L538.57,107.39 L538.67,106.40 L538.78,105.29 L538.92,104.10 L539.07,102.86 L539.23,101.57 L539.42,100.28 L539.62,99.00 L539.84,97.75 L540.08,96.53 L540.34,95.37 L540.61,94.25 L540.91,93.19 L541.22,92.19 L541.54,91.24 L541.89,90.33 L542.25,89.47 L542.63,88.64 L543.03,87.84 L543.44,87.07 L543.88,86.31 L544.33,85.55 L544.80,84.81 L545.28,84.07 L545.79,83.32 L546.31,82.58 L546.85,81.83 L547.41,81.07 L547.98,80.30 L548.57,79.52 L549.18,78.74 L549.81,77.95 L550.46,77.15 L551.12,76.34 L551.80,75.52 L552.50,74.70 L552.85,74.29 L554.28,72.67 L555.71,71.10 L557.13,69.59 L558.56,68.12 L559.99,66.70 L561.42,65.33 L562.84,64.00 L564.27,62.70 L565.70,61.45 L567.12,60.23 L568.55,59.04 L569.98,57.89 L571.40,56.77 L572.83,55.68 L574.26,54.62 L575.68,53.58 L577.11,52.57 L578.54,51.58 L579.97,50.61 L581.39,49.67 L582.82,48.75 L584.25,47.84 L585.67,46.96 L587.10,46.09 L588.53,45.24 L589.95,44.41 L591.38,43.59 L592.81,42.78 L594.23,41.99 L595.66,41.21 L597.09,40.45 L598.52,39.69 L599.94,38.95 L601.37,38.22 L602.80,37.49 L604.22,36.78 L605.65,36.08 L607.08,35.38 L608.50,34.70 L609.93,34.02 L611.36,33.35 L612.78,32.68 L614.21,32.03 L615.64,31.37 L617.07,30.73 L618.49,30.09 L619.92,29.46 L621.35,28.83 L622.77,28.20 L624.20,27.58 L625.63,26.97 L627.05,26.36 L628.48,25.75 L629.91,25.15 L631.33,24.55 L632.76,23.96 L634.19,23.36 L635.62,22.78 L637.04,22.19 L638.47,21.61 L639.90,21.03 L641.32,20.45 L642.75,19.87 L644.18,19.30 L645.60,18.73 L647.03,18.16 L648.46,17.59 L649.88,17.03 L651.31,16.46 L652.74,15.90 L654.17,15.34 L655.59,14.78 L657.02,14.23 L658.45,13.67 L659.87,13.12 L661.30,12.56 L662.73,12.01 L664.15,11.46 L665.58,10.91 L667.01,10.36 L668.43,9.81 L669.86,9.27 L671.29,8.72 L672.72,8.18 L674.14,7.63 L675.57,7.09 L677.00,6.54 L678.42,6.00 L679.85,5.46" fill="none" stroke="#4A922F" stroke-width="0.85" stroke-linejoin="round"/>
<path d="M538.35,109.85 L538.36,109.79 L538.39,109.61 L538.43,109.31 L538.49,108.89 L538.57,108.37 L538.67,107.74 L538.78,107.00 L538.92,106.18 L539.07,105.28 L539.23,104.29 L539.42,103.24 L539.62,102.14 L539.84,100.98 L540.08,99.79 L540.34,98.56 L540.61,97.32 L540.91,96.05 L541.22,94.78 L541.54,93.51 L541.89,92.24 L542.25,90.97 L542.63,89.72 L543.03,88.49 L543.44,87.28 L543.88,86.09 L544.33,84.92 L544.80,83.78 L545.28,82.66 L545.79,81.56 L546.31,80.49 L546.85,79.45 L547.41,78.42 L547.98,77.42 L548.57,76.45 L549.18,75.49 L549.81,74.55 L550.46,73.63 L551.12,72.73 L551.80,71.84 L552.50,70.97 L552.85,70.55 L554.28,68.91 L555.71,67.39 L557.13,65.97 L558.56,64.64 L559.99,63.38 L561.42,62.19 L562.84,61.06 L564.27,59.98 L565.70,58.95 L567.12,57.97 L568.55,57.03 L569.98,56.12 L571.40,55.25 L572.83,54.41 L574.26,53.60 L575.68,52.81 L577.11,52.04 L578.54,51.30 L579.97,50.58 L581.39,49.88 L582.82,49.19 L584.25,48.52 L585.67,47.86 L587.10,47.22 L588.53,46.59 L589.95,45.96 L591.38,45.35 L592.81,44.75 L594.23,44.16 L595.66,43.57 L597.09,42.99 L598.52,42.42 L599.94,41.85 L601.37,41.29 L602.80,40.74 L604.22,40.19 L605.65,39.64 L607.08,39.10 L608.50,38.56 L609.93,38.02 L611.36,37.49 L612.78,36.96 L614.21,36.44 L615.64,35.91 L617.07,35.39 L618.49,34.87 L619.92,34.35 L621.35,33.83 L622.77,33.32 L624.20,32.80 L625.63,32.29 L627.05,31.78 L628.48,31.27 L629.91,30.76 L631.33,30.25 L632.76,29.74 L634.19,29.23 L635.62,28.73 L637.04,28.22 L638.47,27.72 L639.90,27.21 L641.32,26.71 L642.75,26.20 L644.18,25.70 L645.60,25.20 L647.03,24.69 L648.46,24.19 L649.88,23.69 L651.31,23.19 L652.74,22.69 L654.17,22.19 L655.59,21.69 L657.02,21.19 L658.45,20.69 L659.87,20.18 L661.30,19.68 L662.73,19.18 L664.15,18.69 L665.58,18.19 L667.01,17.69 L668.43,17.19 L669.86,16.69 L671.29,16.19 L672.72,15.69 L674.14,15.19 L675.57,14.69 L677.00,14.19 L678.42,13.69 L679.85,13.19" fill="none" stroke="#D9532A" stroke-width="0.85" stroke-linejoin="round"/>
</g>
<clipPath id="dr"><rect x="538.35" y="163.15" width="141.5" height="106.65000000000003"/></clipPath>
<g clip-path="url(#dr)">
<path d="M538.35,269.10 L538.36,269.02 L538.39,268.76 L538.43,268.34 L538.49,267.76 L538.57,267.02 L538.67,266.14 L538.78,265.11 L538.92,263.95 L539.07,262.68 L539.23,261.29 L539.42,259.81 L539.62,258.24 L539.84,256.61 L540.08,254.91 L540.34,253.17 L540.61,251.40 L540.91,249.61 L541.22,247.81 L541.54,246.01 L541.89,244.22 L542.25,242.46 L542.63,240.72 L543.03,239.02 L543.44,237.36 L543.88,235.75 L544.33,234.19 L544.80,232.68 L545.28,231.24 L545.79,229.84 L546.31,228.51 L546.85,227.23 L547.41,226.02 L547.98,224.85 L548.57,223.74 L549.18,222.68 L549.81,221.67 L550.46,220.70 L551.12,219.77 L551.80,218.89 L552.50,218.03 L552.85,217.62 L554.28,216.08 L555.71,214.70 L557.13,213.43 L558.56,212.26 L559.99,211.16 L561.42,210.12 L562.84,209.12 L564.27,208.16 L565.70,207.23 L567.12,206.33 L568.55,205.45 L569.98,204.59 L571.40,203.75 L572.83,202.92 L574.26,202.11 L575.68,201.32 L577.11,200.53 L578.54,199.76 L579.97,199.00 L581.39,198.26 L582.82,197.52 L584.25,196.79 L585.67,196.08 L587.10,195.37 L588.53,194.68 L589.95,193.99 L591.38,193.32 L592.81,192.65 L594.23,191.99 L595.66,191.34 L597.09,190.70 L598.52,190.07 L599.94,189.45 L601.37,188.83 L602.80,188.23 L604.22,187.63 L605.65,187.04 L607.08,186.45 L608.50,185.88 L609.93,185.31 L611.36,184.74 L612.78,184.19 L614.21,183.64 L615.64,183.10 L617.07,182.57 L618.49,182.04 L619.92,181.52 L621.35,181.00 L622.77,180.49 L624.20,179.99 L625.63,179.49 L627.05,179.00 L628.48,178.51 L629.91,178.03 L631.33,177.56 L632.76,177.09 L634.19,176.62 L635.62,176.16 L637.04,175.71 L638.47,175.26 L639.90,174.82 L641.32,174.38 L642.75,173.94 L644.18,173.51 L645.60,173.08 L647.03,172.66 L648.46,172.25 L649.88,171.83 L651.31,171.42 L652.74,171.02 L654.17,170.62 L655.59,170.22 L657.02,169.83 L658.45,169.44 L659.87,169.06 L661.30,168.67 L662.73,168.30 L664.15,167.92 L665.58,167.55 L667.01,167.18 L668.43,166.82 L669.86,166.46 L671.29,166.10 L672.72,165.74 L674.14,165.39 L675.57,165.04 L677.00,164.70 L678.42,164.36 L679.85,164.01" fill="none" stroke="#111111" stroke-width="1.1" stroke-linejoin="round"/>
<path d="M538.35,269.10 L538.36,269.01 L538.39,268.76 L538.43,268.33 L538.49,267.74 L538.57,267.00 L538.67,266.10 L538.78,265.06 L538.92,263.89 L539.07,262.60 L539.23,261.20 L539.42,259.70 L539.62,258.13 L539.84,256.48 L540.08,254.78 L540.34,253.04 L540.61,251.26 L540.91,249.47 L541.22,247.67 L541.54,245.88 L541.89,244.10 L542.25,242.34 L542.63,240.62 L543.03,238.93 L543.44,237.29 L543.88,235.70 L544.33,234.15 L544.80,232.67 L545.28,231.23 L545.79,229.86 L546.31,228.54 L546.85,227.27 L547.41,226.07 L547.98,224.91 L548.57,223.80 L549.18,222.74 L549.81,221.73 L550.46,220.76 L551.12,219.83 L551.80,218.93 L552.50,218.06 L552.85,217.64 L554.28,216.07 L555.71,214.64 L557.13,213.32 L558.56,212.10 L559.99,210.95 L561.42,209.85 L562.84,208.81 L564.27,207.81 L565.70,206.84 L567.12,205.90 L568.55,204.99 L569.98,204.10 L571.40,203.24 L572.83,202.40 L574.26,201.58 L575.68,200.78 L577.11,200.00 L578.54,199.24 L579.97,198.49 L581.39,197.76 L582.82,197.05 L584.25,196.35 L585.67,195.67 L587.10,195.00 L588.53,194.35 L589.95,193.71 L591.38,193.08 L592.81,192.47 L594.23,191.87 L595.66,191.28 L597.09,190.71 L598.52,190.15 L599.94,189.60 L601.37,189.06 L602.80,188.53 L604.22,188.01 L605.65,187.51 L607.08,187.01 L608.50,186.53 L609.93,186.05 L611.36,185.59 L612.78,185.13 L614.21,184.68 L615.64,184.25 L617.07,183.82 L618.49,183.40 L619.92,182.98 L621.35,182.58 L622.77,182.19 L624.20,181.80 L625.63,181.42 L627.05,181.04 L628.48,180.68 L629.91,180.32 L631.33,179.97 L632.76,179.62 L634.19,179.29 L635.62,178.95 L637.04,178.63 L638.47,178.31 L639.90,178.00 L641.32,177.69 L642.75,177.39 L644.18,177.09 L645.60,176.80 L647.03,176.51 L648.46,176.23 L649.88,175.96 L651.31,175.69 L652.74,175.42 L654.17,175.16 L655.59,174.90 L657.02,174.65 L658.45,174.40 L659.87,174.16 L661.30,173.92 L662.73,173.69 L664.15,173.46 L665.58,173.23 L667.01,173.01 L668.43,172.79 L669.86,172.57 L671.29,172.36 L672.72,172.15 L674.14,171.94 L675.57,171.74 L677.00,171.54 L678.42,171.34 L679.85,171.15" fill="none" stroke="#808080" stroke-width="0.85" stroke-linejoin="round"/>
<path d="M538.35,269.10 L538.36,269.01 L538.39,268.76 L538.43,268.33 L538.49,267.74 L538.57,267.00 L538.67,266.10 L538.78,265.06 L538.92,263.89 L539.07,262.60 L539.23,261.21 L539.42,259.71 L539.62,258.14 L539.84,256.49 L540.08,254.79 L540.34,253.05 L540.61,251.28 L540.91,249.49 L541.22,247.69 L541.54,245.90 L541.89,244.13 L542.25,242.38 L542.63,240.66 L543.03,238.97 L543.44,237.33 L543.88,235.74 L544.33,234.20 L544.80,232.72 L545.28,231.29 L545.79,229.92 L546.31,228.60 L546.85,227.34 L547.41,226.14 L547.98,224.99 L548.57,223.89 L549.18,222.83 L549.81,221.82 L550.46,220.86 L551.12,219.93 L551.80,219.04 L552.50,218.18 L552.85,217.76 L554.28,216.20 L555.71,214.78 L557.13,213.48 L558.56,212.27 L559.99,211.13 L561.42,210.04 L562.84,209.01 L564.27,208.02 L565.70,207.06 L567.12,206.13 L568.55,205.24 L569.98,204.36 L571.40,203.51 L572.83,202.68 L574.26,201.88 L575.68,201.09 L577.11,200.32 L578.54,199.57 L579.97,198.83 L581.39,198.11 L582.82,197.41 L584.25,196.73 L585.67,196.05 L587.10,195.40 L588.53,194.76 L589.95,194.13 L591.38,193.51 L592.81,192.91 L594.23,192.33 L595.66,191.75 L597.09,191.19 L598.52,190.64 L599.94,190.10 L601.37,189.57 L602.80,189.06 L604.22,188.55 L605.65,188.06 L607.08,187.57 L608.50,187.10 L609.93,186.64 L611.36,186.18 L612.78,185.74 L614.21,185.30 L615.64,184.88 L617.07,184.46 L618.49,184.05 L619.92,183.65 L621.35,183.26 L622.77,182.88 L624.20,182.50 L625.63,182.13 L627.05,181.77 L628.48,181.42 L629.91,181.07 L631.33,180.73 L632.76,180.40 L634.19,180.07 L635.62,179.75 L637.04,179.44 L638.47,179.13 L639.90,178.83 L641.32,178.53 L642.75,178.24 L644.18,177.96 L645.60,177.68 L647.03,177.40 L648.46,177.13 L649.88,176.87 L651.31,176.61 L652.74,176.36 L654.17,176.11 L655.59,175.86 L657.02,175.62 L658.45,175.39 L659.87,175.16 L661.30,174.93 L662.73,174.70 L664.15,174.49 L665.58,174.27 L667.01,174.06 L668.43,173.85 L669.86,173.65 L671.29,173.44 L672.72,173.25 L674.14,173.05 L675.57,172.86 L677.00,172.67 L678.42,172.49 L679.85,172.31" fill="none" stroke="#4A922F" stroke-width="0.85" stroke-linejoin="round"/>
<path d="M538.35,269.10 L538.36,269.05 L538.39,268.89 L538.43,268.63 L538.49,268.26 L538.57,267.80 L538.67,267.23 L538.78,266.56 L538.92,265.81 L539.07,264.96 L539.23,264.02 L539.42,263.00 L539.62,261.90 L539.84,260.72 L540.08,259.47 L540.34,258.16 L540.61,256.78 L540.91,255.35 L541.22,253.87 L541.54,252.34 L541.89,250.78 L542.25,249.17 L542.63,247.54 L543.03,245.89 L543.44,244.22 L543.88,242.53 L544.33,240.84 L544.80,239.14 L545.28,237.44 L545.79,235.75 L546.31,234.07 L546.85,232.40 L547.41,230.75 L547.98,229.11 L548.57,227.51 L549.18,225.93 L549.81,224.38 L550.46,222.86 L551.12,221.37 L551.80,219.92 L552.50,218.51 L552.85,217.82 L554.28,215.23 L555.71,212.89 L557.13,210.78 L558.56,208.87 L559.99,207.14 L561.42,205.58 L562.84,204.15 L564.27,202.85 L565.70,201.67 L567.12,200.58 L568.55,199.59 L569.98,198.67 L571.40,197.83 L572.83,197.04 L574.26,196.31 L575.68,195.64 L577.11,195.00 L578.54,194.41 L579.97,193.85 L581.39,193.33 L582.82,192.83 L584.25,192.36 L585.67,191.91 L587.10,191.48 L588.53,191.07 L589.95,190.68 L591.38,190.30 L592.81,189.94 L594.23,189.58 L595.66,189.24 L597.09,188.91 L598.52,188.59 L599.94,188.28 L601.37,187.98 L602.80,187.68 L604.22,187.39 L605.65,187.10 L607.08,186.82 L608.50,186.55 L609.93,186.28 L611.36,186.02 L612.78,185.76 L614.21,185.50 L615.64,185.25 L617.07,185.00 L618.49,184.76 L619.92,184.51 L621.35,184.28 L622.77,184.04 L624.20,183.81 L625.63,183.58 L627.05,183.35 L628.48,183.13 L629.91,182.90 L631.33,182.68 L632.76,182.47 L634.19,182.25 L635.62,182.04 L637.04,181.83 L638.47,181.62 L639.90,181.42 L641.32,181.21 L642.75,181.01 L644.18,180.81 L645.60,180.61 L647.03,180.42 L648.46,180.22 L649.88,180.03 L651.31,179.84 L652.74,179.65 L654.17,179.46 L655.59,179.28 L657.02,179.09 L658.45,178.91 L659.87,178.73 L661.30,178.55 L662.73,178.38 L664.15,178.20 L665.58,178.03 L667.01,177.86 L668.43,177.69 L669.86,177.52 L671.29,177.35 L672.72,177.19 L674.14,177.02 L675.57,176.86 L677.00,176.70 L678.42,176.54 L679.85,176.38" fill="none" stroke="#D9532A" stroke-width="0.85" stroke-linejoin="round"/>
</g>
<rect x="38.90" y="6.50" width="251.05" height="106.25" fill="none" stroke="#666666" stroke-width="1"/>
<rect x="38.90" y="159.50" width="251.05" height="106.40" fill="none" stroke="#666666" stroke-width="1"/>
<rect x="351.90" y="4.50" width="141.60" height="105.35" fill="none" stroke="#666666" stroke-width="1"/>
<rect x="351.90" y="163.85" width="141.60" height="105.25" fill="none" stroke="#666666" stroke-width="1"/>
<rect x="538.35" y="4.50" width="141.50" height="105.35" fill="none" stroke="#666666" stroke-width="1"/>
<rect x="538.35" y="163.85" width="141.50" height="105.25" fill="none" stroke="#666666" stroke-width="1"/>
<path d="M38.90,112.75V115.75M38.90,6.50V3.50M80.74,112.75V115.75M80.74,6.50V3.50M122.58,112.75V115.75M122.58,6.50V3.50M164.42,112.75V115.75M164.42,6.50V3.50M206.27,112.75V115.75M206.27,6.50V3.50M248.11,112.75V115.75M248.11,6.50V3.50M289.95,112.75V115.75M289.95,6.50V3.50M35.90,112.70H38.90M289.95,112.70H292.95M35.90,84.20H38.90M289.95,84.20H292.95M35.90,55.70H38.90M289.95,55.70H292.95M35.90,27.20H38.90M289.95,27.20H292.95" stroke="#666666" stroke-width="1" fill="none"/>
<path d="M38.90,265.90V268.90M38.90,159.50V156.50M80.74,265.90V268.90M80.74,159.50V156.50M122.58,265.90V268.90M122.58,159.50V156.50M164.42,265.90V268.90M164.42,159.50V156.50M206.27,265.90V268.90M206.27,159.50V156.50M248.11,265.90V268.90M248.11,159.50V156.50M289.95,265.90V268.90M289.95,159.50V156.50M35.90,265.90H38.90M289.95,265.90H292.95M35.90,244.62H38.90M289.95,244.62H292.95M35.90,223.34H38.90M289.95,223.34H292.95M35.90,202.06H38.90M289.95,202.06H292.95M35.90,180.78H38.90M289.95,180.78H292.95M35.90,159.50H38.90M289.95,159.50H292.95" stroke="#666666" stroke-width="1" fill="none"/>
<path d="M351.90,108.25V111.45M351.90,6.10V2.90M387.30,108.25V111.45M387.30,6.10V2.90M422.70,108.25V111.45M422.70,6.10V2.90M458.10,108.25V111.45M458.10,6.10V2.90M493.50,108.25V111.45M493.50,6.10V2.90M350.30,90.39H353.50M491.90,90.39H495.10M350.30,57.29H353.50M491.90,57.29H495.10M350.30,24.19H353.50M491.90,24.19H495.10" stroke="#666666" stroke-width="1" fill="none"/>
<path d="M351.90,267.50V270.70M351.90,165.45V162.25M387.30,267.50V270.70M387.30,165.45V162.25M422.70,267.50V270.70M422.70,165.45V162.25M458.10,267.50V270.70M458.10,165.45V162.25M493.50,267.50V270.70M493.50,165.45V162.25M350.30,266.50H353.50M491.90,266.50H495.10M350.30,241.50H353.50M491.90,241.50H495.10M350.30,216.50H353.50M491.90,216.50H495.10M350.30,191.50H353.50M491.90,191.50H495.10M350.30,166.50H353.50M491.90,166.50H495.10" stroke="#666666" stroke-width="1" fill="none"/>
<path d="M538.35,108.25V111.45M538.35,6.10V2.90M573.73,108.25V111.45M573.73,6.10V2.90M609.10,108.25V111.45M609.10,6.10V2.90M644.48,108.25V111.45M644.48,6.10V2.90M679.85,108.25V111.45M679.85,6.10V2.90M536.75,109.85H539.95M678.25,109.85H681.45M536.75,83.03H539.95M678.25,83.03H681.45M536.75,56.21H539.95M678.25,56.21H681.45M536.75,29.39H539.95M678.25,29.39H681.45" stroke="#666666" stroke-width="1" fill="none"/>
<path d="M538.35,267.50V270.70M538.35,165.45V162.25M573.73,267.50V270.70M573.73,165.45V162.25M609.10,267.50V270.70M609.10,165.45V162.25M644.48,267.50V270.70M644.48,165.45V162.25M679.85,267.50V270.70M679.85,165.45V162.25M536.75,269.10H539.95M678.25,269.10H681.45M536.75,240.15H539.95M678.25,240.15H681.45M536.75,211.20H539.95M678.25,211.20H681.45M536.75,182.25H539.95M678.25,182.25H681.45" stroke="#666666" stroke-width="1" fill="none"/>
<text x="38.90" y="126.10" font-size="8.5" text-anchor="middle" fill="#262626" color="#262626">0</text>
<text x="80.74" y="126.10" font-size="8.5" text-anchor="middle" fill="#262626" color="#262626">50</text>
<text x="122.58" y="126.10" font-size="8.5" text-anchor="middle" fill="#262626" color="#262626">100</text>
<text x="164.42" y="126.10" font-size="8.5" text-anchor="middle" fill="#262626" color="#262626">150</text>
<text x="206.27" y="126.10" font-size="8.5" text-anchor="middle" fill="#262626" color="#262626">200</text>
<text x="248.11" y="126.10" font-size="8.5" text-anchor="middle" fill="#262626" color="#262626">250</text>
<text x="289.95" y="126.10" font-size="8.5" text-anchor="middle" fill="#262626" color="#262626">300</text>
<text x="33.60" y="116.12" font-size="8.5" text-anchor="end" fill="#262626" color="#262626">0</text>
<text x="33.60" y="87.62" font-size="8.5" text-anchor="end" fill="#262626" color="#262626">1</text>
<text x="33.60" y="59.12" font-size="8.5" text-anchor="end" fill="#262626" color="#262626">2</text>
<text x="33.60" y="30.62" font-size="8.5" text-anchor="end" fill="#262626" color="#262626">3</text>
<text x="38.90" y="279.60" font-size="8.5" text-anchor="middle" fill="#262626" color="#262626">0</text>
<text x="80.74" y="279.60" font-size="8.5" text-anchor="middle" fill="#262626" color="#262626">50</text>
<text x="122.58" y="279.60" font-size="8.5" text-anchor="middle" fill="#262626" color="#262626">100</text>
<text x="164.42" y="279.60" font-size="8.5" text-anchor="middle" fill="#262626" color="#262626">150</text>
<text x="206.27" y="279.60" font-size="8.5" text-anchor="middle" fill="#262626" color="#262626">200</text>
<text x="248.11" y="279.60" font-size="8.5" text-anchor="middle" fill="#262626" color="#262626">250</text>
<text x="289.95" y="279.60" font-size="8.5" text-anchor="middle" fill="#262626" color="#262626">300</text>
<text x="33.60" y="269.32" font-size="8.5" text-anchor="end" fill="#262626" color="#262626">0</text>
<text x="33.60" y="248.04" font-size="8.5" text-anchor="end" fill="#262626" color="#262626">10</text>
<text x="33.60" y="226.76" font-size="8.5" text-anchor="end" fill="#262626" color="#262626">20</text>
<text x="33.60" y="205.48" font-size="8.5" text-anchor="end" fill="#262626" color="#262626">30</text>
<text x="33.60" y="184.20" font-size="8.5" text-anchor="end" fill="#262626" color="#262626">40</text>
<text x="33.60" y="162.92" font-size="8.5" text-anchor="end" fill="#262626" color="#262626">50</text>
<text x="351.90" y="122.00" font-size="8.5" text-anchor="middle" fill="#262626" color="#262626">-200</text>
<text x="387.30" y="122.00" font-size="8.5" text-anchor="middle" fill="#262626" color="#262626">-100</text>
<text x="422.70" y="122.00" font-size="8.5" text-anchor="middle" fill="#262626" color="#262626">0</text>
<text x="458.10" y="122.00" font-size="8.5" text-anchor="middle" fill="#262626" color="#262626">100</text>
<text x="493.50" y="122.00" font-size="8.5" text-anchor="middle" fill="#262626" color="#262626">200</text>
<text x="348.40" y="93.81" font-size="8.5" text-anchor="end" fill="#262626" color="#262626">-10</text>
<text x="348.40" y="60.71" font-size="8.5" text-anchor="end" fill="#262626" color="#262626">0</text>
<text x="348.40" y="27.61" font-size="8.5" text-anchor="end" fill="#262626" color="#262626">10</text>
<text x="351.90" y="281.40" font-size="8.5" text-anchor="middle" fill="#262626" color="#262626">-200</text>
<text x="387.30" y="281.40" font-size="8.5" text-anchor="middle" fill="#262626" color="#262626">-100</text>
<text x="422.70" y="281.40" font-size="8.5" text-anchor="middle" fill="#262626" color="#262626">0</text>
<text x="458.10" y="281.40" font-size="8.5" text-anchor="middle" fill="#262626" color="#262626">100</text>
<text x="493.50" y="281.40" font-size="8.5" text-anchor="middle" fill="#262626" color="#262626">200</text>
<text x="348.40" y="269.92" font-size="8.5" text-anchor="end" fill="#262626" color="#262626">-40</text>
<text x="348.40" y="244.92" font-size="8.5" text-anchor="end" fill="#262626" color="#262626">-20</text>
<text x="348.40" y="219.92" font-size="8.5" text-anchor="end" fill="#262626" color="#262626">0</text>
<text x="348.40" y="194.92" font-size="8.5" text-anchor="end" fill="#262626" color="#262626">20</text>
<text x="348.40" y="169.92" font-size="8.5" text-anchor="end" fill="#262626" color="#262626">40</text>
<text x="538.35" y="122.00" font-size="8.5" text-anchor="middle" fill="#262626" color="#262626">0</text>
<text x="573.73" y="122.00" font-size="8.5" text-anchor="middle" fill="#262626" color="#262626">5</text>
<text x="609.10" y="122.00" font-size="8.5" text-anchor="middle" fill="#262626" color="#262626">10</text>
<text x="644.48" y="122.00" font-size="8.5" text-anchor="middle" fill="#262626" color="#262626">15</text>
<text x="679.85" y="122.00" font-size="8.5" text-anchor="middle" fill="#262626" color="#262626">20</text>
<text x="534.60" y="113.57" font-size="8.5" text-anchor="end" fill="#262626" color="#262626">0</text>
<text x="534.60" y="86.75" font-size="8.5" text-anchor="end" fill="#262626" color="#262626">0.2</text>
<text x="534.60" y="59.93" font-size="8.5" text-anchor="end" fill="#262626" color="#262626">0.4</text>
<text x="534.60" y="33.11" font-size="8.5" text-anchor="end" fill="#262626" color="#262626">0.6</text>
<text x="538.35" y="281.40" font-size="8.5" text-anchor="middle" fill="#262626" color="#262626">0</text>
<text x="573.73" y="281.40" font-size="8.5" text-anchor="middle" fill="#262626" color="#262626">5</text>
<text x="609.10" y="281.40" font-size="8.5" text-anchor="middle" fill="#262626" color="#262626">10</text>
<text x="644.48" y="281.40" font-size="8.5" text-anchor="middle" fill="#262626" color="#262626">15</text>
<text x="679.85" y="281.40" font-size="8.5" text-anchor="middle" fill="#262626" color="#262626">20</text>
<text x="534.60" y="272.52" font-size="8.5" text-anchor="end" fill="#262626" color="#262626">0</text>
<text x="534.60" y="243.57" font-size="8.5" text-anchor="end" fill="#262626" color="#262626">0.5</text>
<text x="534.60" y="214.62" font-size="8.5" text-anchor="end" fill="#262626" color="#262626">1</text>
<text x="534.60" y="185.67" font-size="8.5" text-anchor="end" fill="#262626" color="#262626">1.5</text>
<line x1="39.40" y1="223.50" x2="289.95" y2="223.50" stroke="#222" stroke-width="0.9" stroke-dasharray="1 1.63"/>
<polyline points="80.74,103.95 97.48,100.25 122.58,93.78 139.32,89.90 164.42,83.17 181.16,78.50 206.27,71.20 248.11,57.70 289.95,42.39" fill="none" stroke="#D9532A" stroke-width="1.4" stroke-linejoin="round"/>
<circle cx="80.74" cy="103.95" r="1.7" fill="#D9532A"/>
<circle cx="97.48" cy="100.25" r="1.7" fill="#D9532A"/>
<circle cx="122.58" cy="93.78" r="1.7" fill="#D9532A"/>
<circle cx="139.32" cy="89.90" r="1.7" fill="#D9532A"/>
<circle cx="164.42" cy="83.17" r="1.7" fill="#D9532A"/>
<circle cx="181.16" cy="78.50" r="1.7" fill="#D9532A"/>
<circle cx="206.27" cy="71.20" r="1.7" fill="#D9532A"/>
<circle cx="248.11" cy="57.70" r="1.7" fill="#D9532A"/>
<circle cx="289.95" cy="42.39" r="1.7" fill="#D9532A"/>
<polyline points="80.74,105.40 97.48,102.38 122.58,97.01 139.32,93.76 164.42,88.10 181.16,84.18 206.27,77.93 248.11,66.14 289.95,52.02" fill="none" stroke="#808080" stroke-width="1.4" stroke-linejoin="round"/>
<circle cx="80.74" cy="105.40" r="1.7" fill="#808080"/>
<circle cx="97.48" cy="102.38" r="1.7" fill="#808080"/>
<circle cx="122.58" cy="97.01" r="1.7" fill="#808080"/>
<circle cx="139.32" cy="93.76" r="1.7" fill="#808080"/>
<circle cx="164.42" cy="88.10" r="1.7" fill="#808080"/>
<circle cx="181.16" cy="84.18" r="1.7" fill="#808080"/>
<circle cx="206.27" cy="77.93" r="1.7" fill="#808080"/>
<circle cx="248.11" cy="66.14" r="1.7" fill="#808080"/>
<circle cx="289.95" cy="52.02" r="1.7" fill="#808080"/>
<polyline points="80.74,105.50 97.48,102.52 122.58,97.51 139.32,94.53 164.42,88.89 181.16,84.81 206.27,78.34 248.11,65.78 289.95,50.83" fill="none" stroke="#4A922F" stroke-width="1.4" stroke-linejoin="round"/>
<circle cx="80.74" cy="105.50" r="1.7" fill="#4A922F"/>
<circle cx="97.48" cy="102.52" r="1.7" fill="#4A922F"/>
<circle cx="122.58" cy="97.51" r="1.7" fill="#4A922F"/>
<circle cx="139.32" cy="94.53" r="1.7" fill="#4A922F"/>
<circle cx="164.42" cy="88.89" r="1.7" fill="#4A922F"/>
<circle cx="181.16" cy="84.81" r="1.7" fill="#4A922F"/>
<circle cx="206.27" cy="78.34" r="1.7" fill="#4A922F"/>
<circle cx="248.11" cy="65.78" r="1.7" fill="#4A922F"/>
<circle cx="289.95" cy="50.83" r="1.7" fill="#4A922F"/>
<polyline points="80.74,228.01 97.48,226.74 122.58,223.66 139.32,222.49 164.42,224.51 181.16,226.42 206.27,229.07 248.11,234.38 289.95,240.12" fill="none" stroke="#4A922F" stroke-width="1.4" stroke-linejoin="round"/>
<circle cx="80.74" cy="228.01" r="1.7" fill="#4A922F"/>
<circle cx="97.48" cy="226.74" r="1.7" fill="#4A922F"/>
<circle cx="122.58" cy="223.66" r="1.7" fill="#4A922F"/>
<circle cx="139.32" cy="222.49" r="1.7" fill="#4A922F"/>
<circle cx="164.42" cy="224.51" r="1.7" fill="#4A922F"/>
<circle cx="181.16" cy="226.42" r="1.7" fill="#4A922F"/>
<circle cx="206.27" cy="229.07" r="1.7" fill="#4A922F"/>
<circle cx="248.11" cy="234.38" r="1.7" fill="#4A922F"/>
<circle cx="289.95" cy="240.12" r="1.7" fill="#4A922F"/>
<polyline points="80.74,230.35 97.48,229.28 122.58,229.28 139.32,229.60 164.42,230.13 181.16,230.35 206.27,231.20 248.11,233.00 289.95,236.50" fill="none" stroke="#808080" stroke-width="1.4" stroke-linejoin="round"/>
<circle cx="80.74" cy="230.35" r="1.7" fill="#808080"/>
<circle cx="97.48" cy="229.28" r="1.7" fill="#808080"/>
<circle cx="122.58" cy="229.28" r="1.7" fill="#808080"/>
<circle cx="139.32" cy="229.60" r="1.7" fill="#808080"/>
<circle cx="164.42" cy="230.13" r="1.7" fill="#808080"/>
<circle cx="181.16" cy="230.35" r="1.7" fill="#808080"/>
<circle cx="206.27" cy="231.20" r="1.7" fill="#808080"/>
<circle cx="248.11" cy="233.00" r="1.7" fill="#808080"/>
<circle cx="289.95" cy="236.50" r="1.7" fill="#808080"/>
<rect x="71.6" y="94.5" width="17.0" height="15.5" fill="none" stroke="#3a3a3a" stroke-width="0.9"/>
<rect x="198.5" y="60.8" width="17.0" height="22.4" fill="none" stroke="#3a3a3a" stroke-width="0.9"/>
<text x="80.00" y="89.40" font-size="10.6" text-anchor="middle" fill="#262626" color="#262626">(C)</text>
<text x="207.20" y="53.40" font-size="10.6" text-anchor="middle" fill="#262626" color="#262626">(D)</text>
<line x1="44.10" y1="15.20" x2="57.00" y2="15.20" stroke="#D9532A" stroke-width="1.4"/>
<circle cx="50.5" cy="15.20" r="1.7" fill="#D9532A"/>
<text x="58.30" y="17.70" font-size="7.8" text-anchor="start" fill="#262626" color="#262626">Linear Burgers (interseismic constraint)</text>
<line x1="44.10" y1="24.45" x2="57.00" y2="24.45" stroke="#808080" stroke-width="1.4"/>
<circle cx="50.5" cy="24.45" r="1.7" fill="#808080"/>
<text x="58.30" y="26.95" font-size="7.8" text-anchor="start" fill="#262626" color="#262626">Linear Burgers (postseismic only)</text>
<line x1="44.10" y1="33.70" x2="57.00" y2="33.70" stroke="#4A922F" stroke-width="1.4"/>
<circle cx="50.5" cy="33.70" r="1.7" fill="#4A922F"/>
<text x="58.30" y="36.20" font-size="7.8" text-anchor="start" fill="#262626" color="#262626">Power Law</text>
<text x="167.30" y="170.20" font-size="8.0" text-anchor="middle" fill="#262626" color="#262626">relative to</text>
<text x="168.75" y="180.10" font-size="8.0" text-anchor="middle" fill="#262626" color="#262626">Linear Burgers (interseismic constraint)</text>
<text x="219.70" y="219.00" font-size="8.0" text-anchor="middle" fill="#262626" color="#262626">less than 20% improvement</text>
<line x1="571.70" y1="65.00" x2="581.80" y2="65.00" stroke="#111111" stroke-width="2.0"/>
<text x="584.70" y="67.60" font-size="7.3" text-anchor="start" fill="#262626" color="#262626">Synthetic</text>
<line x1="571.70" y1="76.27" x2="581.80" y2="76.27" stroke="#C8283A" stroke-width="1.0"/>
<text x="584.70" y="78.87" font-size="7.3" text-anchor="start" fill="#262626" color="#262626">Linear Burgers</text>
<line x1="571.70" y1="87.54" x2="581.80" y2="87.54" stroke="#9A9A9A" stroke-width="1.0"/>
<text x="584.70" y="90.14" font-size="7.3" text-anchor="start" fill="#262626" color="#262626">Linear Burgers (postseismic)</text>
<line x1="571.70" y1="98.81" x2="581.80" y2="98.81" stroke="#5A9A48" stroke-width="1.0"/>
<text x="584.70" y="101.41" font-size="7.3" text-anchor="start" fill="#262626" color="#262626">Power-law</text>
<text x="164.20" y="137.60" font-size="9.1" text-anchor="middle" fill="#262626" color="#262626">T<tspan font-size="7.6" dy="4.1">eq</tspan><tspan dy="-4.1"> (yrs)</tspan></text>
<text x="164.20" y="290.70" font-size="9.1" text-anchor="middle" fill="#262626" color="#262626">T<tspan font-size="7.6" dy="4.1">eq</tspan><tspan dy="-4.1"> (yrs)</tspan></text>
<text x="422.50" y="132.40" font-size="9.05" text-anchor="middle" fill="#262626" color="#262626">x (km)</text>
<text x="422.50" y="291.60" font-size="9.05" text-anchor="middle" fill="#262626" color="#262626">x (km)</text>
<text x="609.00" y="132.40" font-size="9.05" text-anchor="middle" fill="#262626" color="#262626">t (yrs)</text>
<text x="609.00" y="291.60" font-size="9.05" text-anchor="middle" fill="#262626" color="#262626">t (yrs)</text>
<text x="25.20" y="59.80" font-size="9.4" text-anchor="middle" fill="#262626" color="#262626" transform="rotate(-90 25.20 59.80)">RMSE (cm)</text>
<text x="21.20" y="212.00" font-size="9.4" text-anchor="middle" fill="#262626" color="#262626" transform="rotate(-90 21.20 212.00)">Error Reduction %</text>
<text x="332.70" y="57.20" font-size="9.4" text-anchor="middle" fill="#262626" color="#262626" transform="rotate(-90 332.70 57.20)">&#916;u at 20 yrs (cm)</text>
<text x="332.70" y="216.40" font-size="9.4" text-anchor="middle" fill="#262626" color="#262626" transform="rotate(-90 332.70 216.40)">&#916;u at 20 yrs (cm)</text>
<text x="519.40" y="56.90" font-size="9.4" text-anchor="middle" fill="#262626" color="#262626" transform="rotate(-90 519.40 56.90)">Time function</text>
<text x="519.40" y="216.30" font-size="9.4" text-anchor="middle" fill="#262626" color="#262626" transform="rotate(-90 519.40 216.30)">Time function</text>
<line x1="406.50" y1="141.20" x2="438.80" y2="141.20" stroke="#777" stroke-width="0.8"/>
<path d="M405.5,141.2 l2.2,-1.1 v2.2 z M439.8,141.2 l-2.2,-1.1 v2.2 z" fill="#222"/>
<text x="422.80" y="153.40" font-size="8.0" text-anchor="middle" fill="#262626" color="#262626">data not used</text>
<text x="0.30" y="7.55" font-size="10.0" text-anchor="start" font-weight="bold" fill="#111" color="#111">(A)</text>
<text x="0.20" y="160.80" font-size="10.0" text-anchor="start" font-weight="bold" fill="#111" color="#111">(B)</text>
<text x="319.50" y="7.55" font-size="10.0" text-anchor="start" font-weight="bold" fill="#111" color="#111">(C)</text>
<text x="318.50" y="160.80" font-size="10.0" text-anchor="start" font-weight="bold" fill="#111" color="#111">(D)</text>
</svg>
</body></html>
